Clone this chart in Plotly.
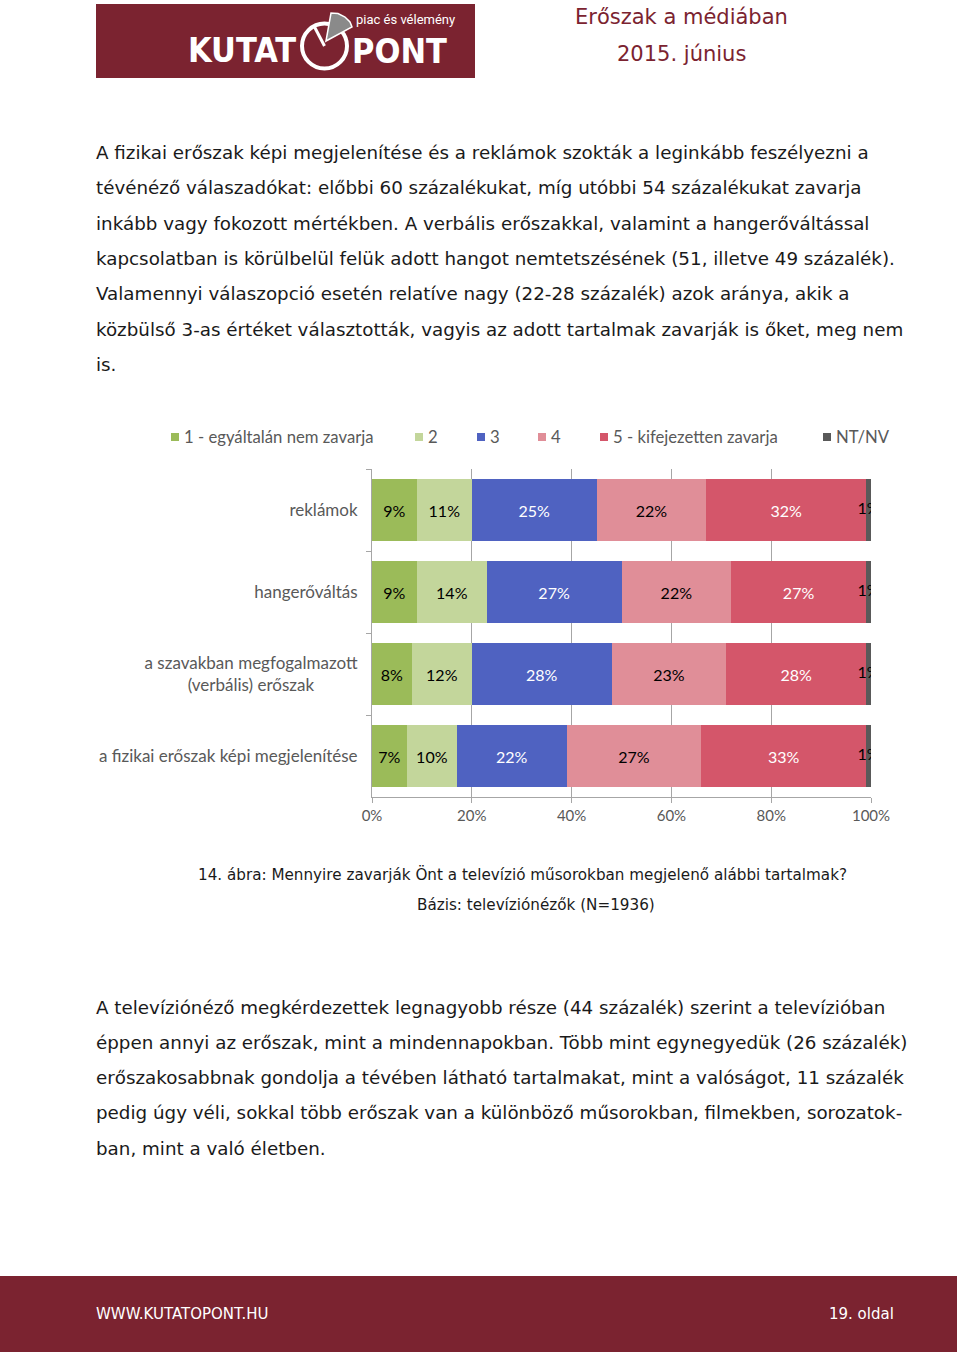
import plotly.graph_objects as go

W, H = 960, 1352


def px(x):
    return x / W


def py(y):
    return 1 - y / H


# ---------------- data ----------------
categories = [
    "reklámok",
    "hangerőváltás",
    "a szavakban megfogalmazott<br>(verbális) erőszak" + "\u00a0" * 10,
    "a fizikai erőszak képi megjelenítése",
]
series_names = ["1 - egyáltalán nem zavarja", "2", "3", "4", "5 - kifejezetten zavarja", "NT/NV"]
v1 = [9, 9, 8, 7]
v2 = [11, 14, 12, 10]
v3 = [25, 27, 28, 22]
v4 = [22, 22, 23, 27]
v5 = [32, 27, 28, 33]
v_nt = [1, 1, 1, 1]
series_values = [v1, v2, v3, v4, v5, v_nt]
x_tickvals = [0, 20, 40, 60, 80, 100]
x_ticktext = ["0%", "20%", "40%", "60%", "80%", "100%"]

colors = ["#9bbb59", "#c3d69b", "#4f62c1", "#e08e98", "#d4566a", "#595959"]
label_colors = ["#000000", "#000000", "#ffffff", "#000000", "#ffffff", "#000000"]

MAROON = "#7b2330"
GRAY_TXT = "#595959"
CHART_FONT = "Lato, Open Sans, sans-serif"
BODY_FONT = "DejaVu Sans, sans-serif"

fig = go.Figure()

for i, (name, vals) in enumerate(zip(series_names, series_values)):
    show_text = i < len(series_names) - 1
    fig.add_trace(go.Bar(
        orientation="h",
        y=categories,
        x=vals,
        name=name,
        marker=dict(color=colors[i], line=dict(width=0)),
        text=[f"{v}%" for v in vals] if show_text else None,
        textposition="inside" if show_text else "none",
        insidetextanchor="middle",
        textangle=0,
        insidetextfont=dict(family=CHART_FONT, size=16, color=label_colors[i]),
        showlegend=False,
        hoverinfo="skip",
    ))

# labels of the last (tiny) segment, clipped at the plot edge like the original
cum_before = [sum(s[k] for s in series_values[:-1]) for k in range(len(categories))]
fig.add_trace(go.Scatter(
    x=[cb + v / 2 for cb, v in zip(cum_before, v_nt)],
    y=categories,
    mode="text",
    text=[f"{v}%" for v in v_nt],
    textposition="middle center",
    textfont=dict(family=CHART_FONT, size=16, color="#000000"),
    cliponaxis=True,
    showlegend=False,
    hoverinfo="skip",
))

fig.update_layout(
    width=W,
    height=H,
    autosize=False,
    margin=dict(l=0, r=0, t=0, b=0, pad=0, autoexpand=False),
    paper_bgcolor="white",
    plot_bgcolor="white",
    barmode="stack",
    bargap=0.244,
    showlegend=False,
    xaxis=dict(
        domain=[px(372), px(871)],
        range=[0, 100],
        tickvals=x_tickvals,
        ticktext=x_ticktext,
        showgrid=True,
        gridcolor="#a6a6a6",
        gridwidth=1,
        zeroline=False,
        showline=True,
        linecolor="#a6a6a6",
        ticks="outside",
        ticklen=5,
        tickcolor="#a6a6a6",
        tickfont=dict(family=CHART_FONT, size=15, color=GRAY_TXT),
        automargin=False,
        fixedrange=True,
    ),
    yaxis=dict(
        domain=[py(797), py(469)],
        type="category",
        categoryorder="array",
        categoryarray=categories,
        autorange="reversed",
        showgrid=False,
        showline=True,
        linecolor="#a6a6a6",
        ticks="outside",
        tickson="boundaries",
        ticklen=5,
        tickcolor="#a6a6a6",
        ticklabelstandoff=10,
        tickfont=dict(family=CHART_FONT, size=17, color=GRAY_TXT),
        automargin=False,
        fixedrange=True,
    ),
)

shapes = []
annotations = []

# ---------------- legend (manual, to match spacing) ----------------
legend_x = [171, 415, 477, 538, 600, 823]
legend_y = 437
for name, c, lx in zip(series_names, colors, legend_x):
    shapes.append(dict(type="rect", xref="paper", yref="paper",
                       x0=px(lx), x1=px(lx + 8), y0=py(legend_y + 4), y1=py(legend_y - 4),
                       fillcolor=c, line=dict(width=0)))
    annotations.append(dict(x=px(lx + 11), y=py(legend_y), xref="paper", yref="paper",
                            xanchor="left", yanchor="middle", showarrow=False,
                            text=name, font=dict(family=CHART_FONT, size=16.7, color=GRAY_TXT)))

# ---------------- header ----------------
shapes.append(dict(type="rect", xref="paper", yref="paper",
                   x0=px(96), x1=px(475), y0=py(78), y1=py(4),
                   fillcolor=MAROON, line=dict(width=0), layer="below"))
# logo "O" ring
shapes.append(dict(type="circle", xref="paper", yref="paper",
                   x0=px(302), x1=px(347), y0=py(68.5), y1=py(23.5),
                   line=dict(color="white", width=4)))


def pth(points):
    s = "M {} {}".format(px(points[0][0]), py(points[0][1]))
    for (a, b) in points[1:]:
        s += " L {} {}".format(px(a), py(b))
    return s + " Z"


# grey pie slice
shapes.append(dict(type="path", xref="paper", yref="paper",
                   path=pth([(326, 41), (331, 13), (338, 13.5), (345, 17), (350, 22), (352, 27)]),
                   fillcolor="#8a8a8a", line=dict(color="white", width=1.5)))
shapes.append(dict(type="line", xref="paper", yref="paper",
                   x0=px(324.5), y0=py(46), x1=px(314), y1=py(26),
                   line=dict(color="white", width=3)))

LOGO_FONT = "DejaVu Sans Condensed, DejaVu Sans, sans-serif"
annotations.append(dict(x=px(298), y=py(50), xref="paper", yref="paper",
                        xanchor="right", yanchor="middle", showarrow=False,
                        text="<b>KUTAT</b>", font=dict(family=LOGO_FONT, size=34, color="white")))
annotations.append(dict(x=px(350), y=py(51), xref="paper", yref="paper",
                        xanchor="left", yanchor="middle", showarrow=False,
                        text="<b>PONT</b>", font=dict(family=LOGO_FONT, size=34, color="white")))
annotations.append(dict(x=px(354), y=py(20), xref="paper", yref="paper",
                        xanchor="left", yanchor="middle", showarrow=False,
                        text="piac és vélemény", font=dict(family="Roboto, sans-serif", size=13, color="white")))

annotations.append(dict(x=px(681), y=py(17), xref="paper", yref="paper",
                        xanchor="center", yanchor="middle", showarrow=False,
                        text="Erőszak a médiában", font=dict(family=BODY_FONT, size=21, color=MAROON)))
annotations.append(dict(x=px(681), y=py(54), xref="paper", yref="paper",
                        xanchor="center", yanchor="middle", showarrow=False,
                        text="2015. június", font=dict(family=BODY_FONT, size=21, color=MAROON)))

# ---------------- body text ----------------
para1 = [
    "A fizikai erőszak képi megjelenítése és a reklámok szokták a leginkább feszélyezni a",
    "tévénéző válaszadókat: előbbi 60 százalékukat, míg utóbbi 54 százalékukat zavarja",
    "inkább vagy fokozott mértékben. A verbális erőszakkal, valamint a hangerőváltással",
    "kapcsolatban is körülbelül felük adott hangot nemtetszésének (51, illetve 49 százalék).",
    "Valamennyi válaszopció esetén relatíve nagy (22-28 százalék) azok aránya, akik a",
    "közbülső 3-as értéket választották, vagyis az adott tartalmak zavarják is őket, meg nem",
    "is.",
]
para2 = [
    "A televíziónéző megkérdezettek legnagyobb része (44 százalék) szerint a televízióban",
    "éppen annyi az erőszak, mint a mindennapokban. Több mint egynegyedük (26 százalék)",
    "erőszakosabbnak gondolja a tévében látható tartalmakat, mint a valóságot, 11 százalék",
    "pedig úgy véli, sokkal több erőszak van a különböző műsorokban, filmekben, sorozatok-",
    "ban, mint a való életben.",
]
for i, line in enumerate(para1):
    annotations.append(dict(x=px(95), y=py(152 + i * 35.5), xref="paper", yref="paper",
                            xanchor="left", yanchor="middle", showarrow=False, borderpad=0,
                            text=line, font=dict(family=BODY_FONT, size=18.3, color="#1a1a1a")))
for i, line in enumerate(para2):
    annotations.append(dict(x=px(95), y=py(1007 + i * 35.3), xref="paper", yref="paper",
                            xanchor="left", yanchor="middle", showarrow=False, borderpad=0,
                            text=line, font=dict(family=BODY_FONT, size=18.3, color="#1a1a1a")))

# caption
annotations.append(dict(x=px(522), y=py(875), xref="paper", yref="paper",
                        xanchor="center", yanchor="middle", showarrow=False,
                        text="14. ábra: Mennyire zavarják Önt a televízió műsorokban megjelenő alábbi tartalmak?",
                        font=dict(family=BODY_FONT, size=15.2, color="#1a1a1a")))
annotations.append(dict(x=px(536), y=py(905), xref="paper", yref="paper",
                        xanchor="center", yanchor="middle", showarrow=False,
                        text="Bázis: televíziónézők (N=1936)",
                        font=dict(family=BODY_FONT, size=15.2, color="#1a1a1a")))

# ---------------- footer ----------------
shapes.append(dict(type="rect", xref="paper", yref="paper",
                   x0=px(0), x1=px(957), y0=py(1352), y1=py(1276),
                   fillcolor=MAROON, line=dict(width=0), layer="below"))
annotations.append(dict(x=px(95), y=py(1314), xref="paper", yref="paper",
                        xanchor="left", yanchor="middle", showarrow=False, borderpad=0,
                        text="WWW.KUTATOPONT.HU", font=dict(family=BODY_FONT, size=15, color="white")))
annotations.append(dict(x=px(896), y=py(1314), xref="paper", yref="paper",
                        xanchor="right", yanchor="middle", showarrow=False,
                        text="19. oldal", font=dict(family=BODY_FONT, size=15, color="white")))

fig.update_layout(shapes=shapes, annotations=annotations)

fig.write_html(
    "out.html",
    config={"displayModeBar": False, "staticPlot": True},
    post_script="document.body.style.margin='0px';document.body.style.overflow='hidden';",
)
